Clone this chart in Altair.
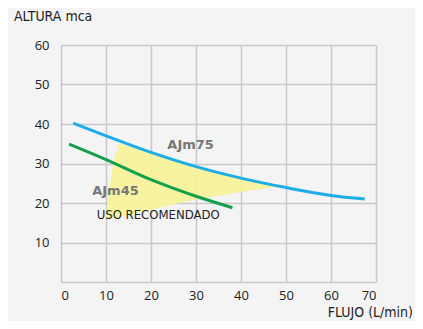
import altair as alt
import pandas as pd

# AJm75 curve (blue)
blue_x = [2.7, 10, 20, 30, 40, 50, 60, 67.5]
blue_y = [40.2, 37.0, 32.8, 29.2, 26.3, 23.9, 21.9, 21.0]
# AJm45 curve (green)
green_x = [1.8, 10, 20, 30, 38.1]
green_y = [34.9, 31.0, 25.9, 21.7, 18.8]
# recommended-use zone (yellow)
zone_x = [9.8, 11.6, 12.9, 20, 30, 40, 47.9]
zone_lo = [15.8, 16.2, 16.5, 18.3, 20.9, 22.8, 24.2]
zone_hi = [15.8, 30.1, 35.1, 32.8, 29.2, 26.3, 24.2]

x_ticks = [0, 10, 20, 30, 40, 50, 60, 70]
y_ticks = [0, 10, 20, 30, 40, 50, 60]

labels = pd.DataFrame({
    "x": [28.8, 12.1],
    "y": [34.7, 23.0],
    "t": ["AJm75", "AJm45"],
})
uso = pd.DataFrame({"x": [21.6], "y": [17.0], "t": ["USO RECOMENDADO"]})

lines = pd.concat([
    pd.DataFrame({"x": blue_x, "y": blue_y, "s": "AJm75"}),
    pd.DataFrame({"x": green_x, "y": green_y, "s": "AJm45"}),
])
zone = pd.DataFrame({"x": zone_x, "lo": zone_lo, "hi": zone_hi})

xs = alt.Scale(domain=[0, 70], nice=False)
ys = alt.Scale(domain=[0, 60], nice=False)

xaxis = alt.Axis(values=x_ticks, domain=False, ticks=False, grid=True, title=None,
                 labelFontSize=13, labelFont="Open Sans", labelColor="#222",
                 labelPadding=7, gridColor="#c8c8c8", gridWidth=1.5,
                 labelOverlap=False)
yaxis = alt.Axis(values=y_ticks, domain=False, ticks=False, grid=True, title=None,
                 labelFontSize=13, labelFont="Open Sans", labelColor="#222",
                 labelPadding=12, gridColor="#c8c8c8", gridWidth=1.5,
                 labelOverlap=False,
                 labelExpr="datum.value == 0 ? '' : datum.label")

X = lambda f: alt.X(f, scale=xs, axis=xaxis)
Y = lambda f: alt.Y(f, scale=ys, axis=yaxis)

area = alt.Chart(zone).mark_area(color="#f8f29c", opacity=0.95).encode(
    x=X("x:Q"), y=Y("lo:Q"), y2="hi:Q",
)

curves = alt.Chart(lines).mark_line(strokeWidth=3, interpolate="monotone").encode(
    x=X("x:Q"), y=Y("y:Q"),
    color=alt.Color("s:N", scale=alt.Scale(domain=["AJm75", "AJm45"],
                                           range=["#1daeea", "#14a04b"]), legend=None),
    detail="s:N",
)

txt = alt.Chart(labels).mark_text(fontSize=13, fontWeight="bold", color="#777777",
                                  font="DejaVu Sans").encode(
    x=X("x:Q"), y=Y("y:Q"), text="t:N")

narrow = "Liberation Sans Narrow, DejaVu Sans Condensed"
utxt = alt.Chart(uso).mark_text(fontSize=13, color="#222222", font=narrow).encode(
    x=X("x:Q"), y=Y("y:Q"), text="t:N")

one = alt.Data(values=[{}])
ytitle = alt.Chart(one).mark_text(text="ALTURA mca", align="left", baseline="middle",
                                  fontSize=14, color="#222", font=narrow).encode(
    x=alt.value(-47), y=alt.value(-28))
xtitle = alt.Chart(one).mark_text(text="FLUJO (L/min)", align="right", baseline="middle",
                                  fontSize=14, color="#222", font=narrow).encode(
    x=alt.value(352), y=alt.value(268))

chart = alt.layer(area, curves, txt, utxt, ytitle, xtitle).properties(
    width=315, height=237,
    autosize=alt.AutoSizeParams(type="none"),
    padding={"left": 53, "top": 37, "right": 39, "bottom": 39},
    background="#f4f4f4",
).configure_view(stroke=None)

chart.save("out.html", embed_options={"renderer": "svg", "actions": False})
